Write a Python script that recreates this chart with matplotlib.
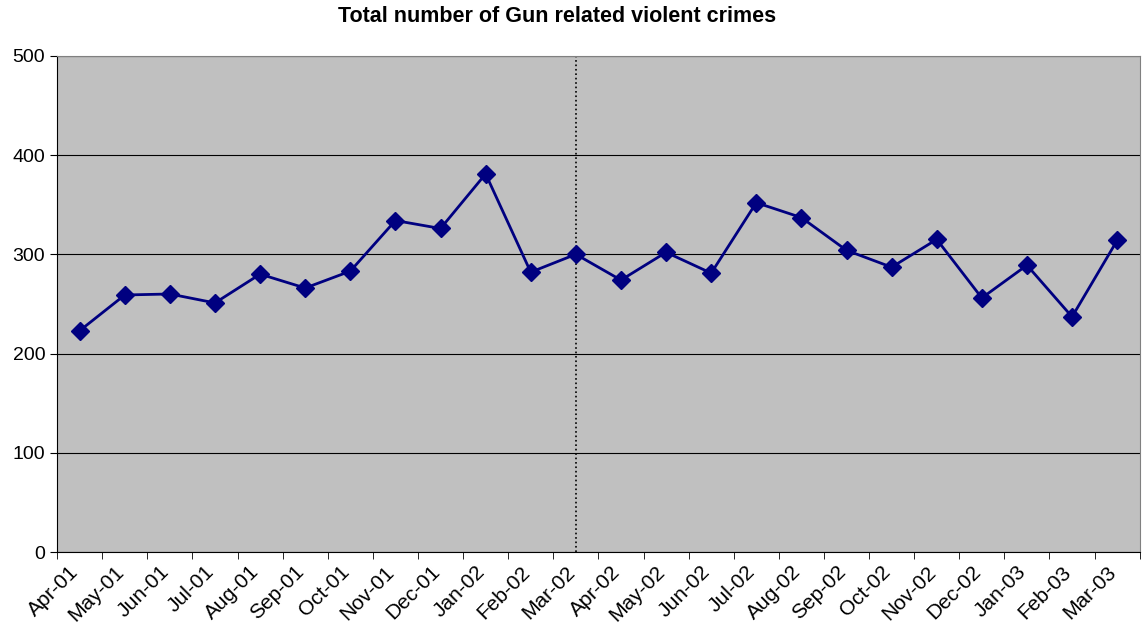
import matplotlib
matplotlib.use('Agg')
import matplotlib.pyplot as plt
import numpy as np

# data
months = ['Apr-01', 'May-01', 'Jun-01', 'Jul-01', 'Aug-01', 'Sep-01', 'Oct-01', 'Nov-01',
          'Dec-01', 'Jan-02', 'Feb-02', 'Mar-02', 'Apr-02', 'May-02', 'Jun-02', 'Jul-02',
          'Aug-02', 'Sep-02', 'Oct-02', 'Nov-02', 'Dec-02', 'Jan-03', 'Feb-03', 'Mar-03']
crimes = [223, 259, 260, 251, 280, 266, 283, 334, 326, 381, 282, 300,
          274, 302, 281, 352, 337, 304, 287, 315, 256, 289, 237, 314]
divider = 'Mar-02'

plt.rcParams['font.family'] = ['Liberation Sans', 'DejaVu Sans']

fig = plt.figure(figsize=(11.42, 6.37), dpi=100)
ax = fig.add_axes([0.05, 0.1334, 0.948, 0.779])
ax.set_facecolor('#c0c0c0')

x = np.arange(len(months))
ax.plot(x, crimes, color='#000080', lw=2, marker='D', ms=9, zorder=3)
ax.axvline(months.index(divider), color='black', ls=':', lw=1.2, zorder=2)

ax.set_xlim(-0.5, len(months) - 0.5)
ax.set_ylim(0, 500)
ax.set_yticks(range(0, 501, 100))
ax.yaxis.grid(True, color='black', lw=0.8)
ax.set_axisbelow(True)

ax.set_xticks(x)
ax.set_xticklabels(months, rotation=45, ha='right', va='baseline',
                   rotation_mode='anchor', fontsize=15)
ax.set_xticks(np.arange(-0.5, len(months)), minor=True)
ax.tick_params(axis='x', which='major', length=0, pad=15)
ax.tick_params(axis='x', which='minor', length=5, direction='out')
ax.tick_params(axis='y', labelsize=14, length=5)

for s in ['top', 'right']:
    ax.spines[s].set_color('#808080')
for s in ['left', 'bottom']:
    ax.spines[s].set_color('black')

fig.suptitle('Total number of Gun related violent crimes', fontsize=15.5, fontweight='bold',
             x=0.488, y=0.99, va='top')

fig.savefig('out.png', dpi=100)
